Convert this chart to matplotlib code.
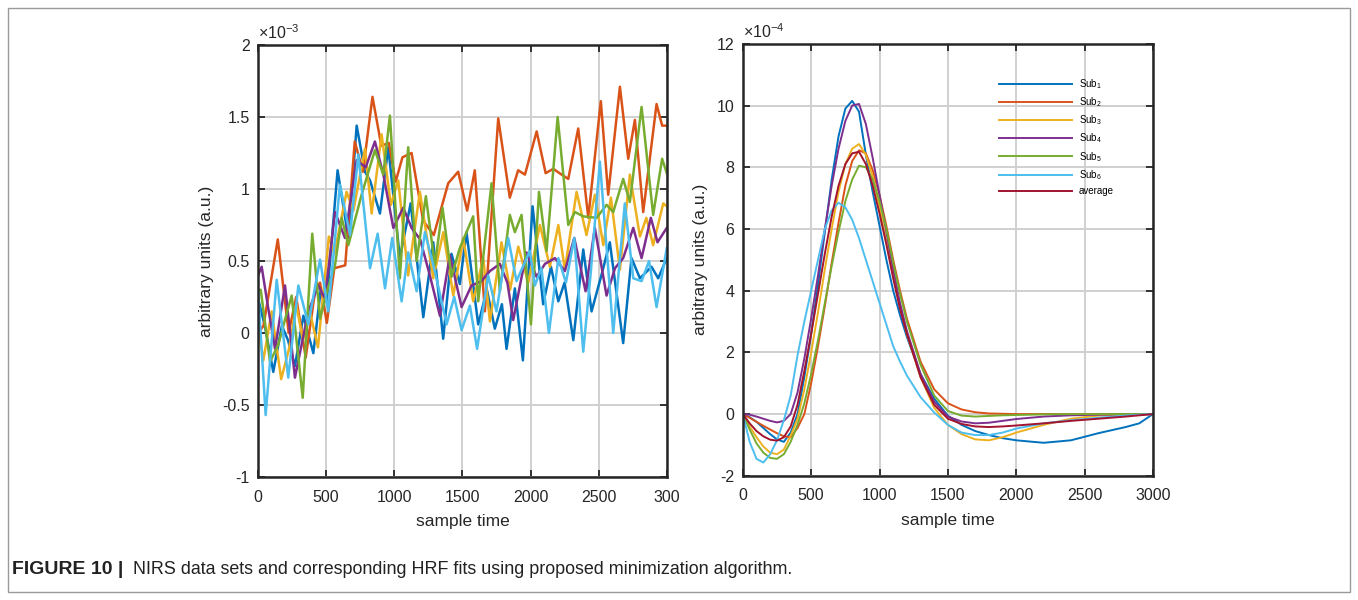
import numpy as np
import matplotlib.pyplot as plt
from matplotlib.patches import Rectangle

plt.rcParams['font.family'] = ['Liberation Sans', 'DejaVu Sans']
plt.rcParams['mathtext.default'] = 'regular'
plt.rcParams['axes.unicode_minus'] = False

colors = ['#0072BD', '#D95319', '#EDB120', '#7E2F8E', '#77AC30', '#4DBEEE', '#A2142F']
names = ['Sub$_1$', 'Sub$_2$', 'Sub$_3$', 'Sub$_4$', 'Sub$_5$', 'Sub$_6$', 'average']

# ---- left panel: NIRS data (values in 1e-3 a.u.) ----
sub1_x = [0, 50, 112, 175, 220, 271, 333, 406, 460, 504, 584, 663, 724, 785, 822, 895, 956, 1041, 1120, 1213,
          1286, 1359, 1420, 1481, 1530, 1616, 1680, 1738, 1790, 1824, 1885, 1944, 2015, 2093, 2150, 2204, 2250,
          2314, 2387, 2448, 2520, 2582, 2680, 2741, 2803, 2888, 2937, 3000]
sub1_y = [0.24, 0.05, -0.27, 0.05, -0.05, -0.23, 0.12, -0.14, 0.30, 0.22, 1.13, 0.66, 1.44, 1.12, 1.06, 0.83,
          1.29, 0.52, 0.90, 0.11, 0.63, -0.04, 0.55, 0.34, 0.70, 0.06, 0.30, 0.03, 0.20, -0.11, 0.31, -0.19,
          0.88, 0.20, 0.46, 0.22, 0.35, -0.05, 0.58, 0.15, 0.40, 0.63, -0.07, 0.52, 0.38, 0.46, 0.38, 0.52]

sub2_x = [0, 40, 145, 225, 280, 350, 420, 455, 505, 560, 640, 710, 770, 840, 905, 960, 1010, 1060, 1127, 1212,
          1290, 1396, 1469, 1535, 1591, 1665, 1763, 1848, 1909, 1959, 2045, 2111, 2167, 2228, 2277, 2350, 2424,
          2516, 2570, 2656, 2717, 2766, 2827, 2925, 2966, 3000]
sub2_y = [0.0, 0.05, 0.65, 0.0, 0.25, -0.17, 0.30, 0.35, 0.07, 0.45, 0.47, 1.33, 1.12, 1.64, 1.30, 1.32, 1.05,
          1.22, 1.25, 0.78, 0.68, 1.04, 1.12, 0.85, 1.13, 0.15, 1.49, 0.94, 1.13, 1.10, 1.40, 1.11, 1.14, 1.10,
          1.07, 1.42, 0.80, 1.61, 0.96, 1.71, 1.21, 1.48, 0.84, 1.59, 1.44, 1.44]

sub3_x = [0, 39, 100, 170, 230, 280, 330, 380, 440, 520, 560, 650, 700, 785, 834, 907, 975, 1029, 1102, 1188,
          1286, 1360, 1433, 1506, 1579, 1653, 1702, 1787, 1850, 1910, 1983, 2069, 2142, 2204, 2252, 2338, 2411,
          2472, 2534, 2590, 2656, 2729, 2803, 2850, 2900, 2974, 3000]
sub3_y = [0.05, -0.19, 0.15, -0.32, -0.10, 0.20, -0.05, 0.15, -0.10, 0.67, 0.55, 0.98, 0.85, 1.28, 0.83, 1.38,
          0.89, 1.06, 0.40, 0.98, 0.38, 0.70, 0.26, 0.66, 0.22, 0.52, 0.08, 0.63, 0.30, 0.60, 0.35, 0.75, 0.46,
          0.75, 0.44, 0.98, 0.68, 0.96, 0.61, 0.94, 0.44, 1.10, 0.67, 0.80, 0.61, 0.90, 0.88]

sub4_x = [0, 27, 70, 125, 198, 271, 369, 443, 491, 565, 638, 724, 790, 858, 920, 993, 1066, 1127, 1190, 1261,
          1335, 1408, 1494, 1567, 1640, 1702, 1775, 1830, 1873, 1970, 2045, 2106, 2179, 2252, 2321, 2404, 2472,
          2558, 2620, 2680, 2754, 2815, 2883, 2932, 3000]
sub4_y = [0.40, 0.46, 0.20, -0.11, 0.33, -0.31, 0.15, 0.33, 0.24, 0.84, 0.66, 1.20, 1.15, 1.33, 1.10, 0.73,
          0.87, 0.73, 0.65, 0.40, 0.12, 0.54, 0.18, 0.33, 0.36, 0.43, 0.48, 0.35, 0.09, 0.56, 0.39, 0.48, 0.52,
          0.43, 0.66, 0.29, 0.73, 0.26, 0.45, 0.52, 0.73, 0.52, 0.80, 0.63, 0.73]

sub5_x = [0, 20, 88, 149, 200, 247, 328, 398, 455, 510, 565, 614, 663, 760, 858, 919, 968, 1041, 1102, 1164,
          1232, 1298, 1354, 1420, 1481, 1579, 1616, 1714, 1775, 1848, 1885, 1934, 2003, 2062, 2118, 2199, 2277,
          2326, 2387, 2485, 2558, 2607, 2680, 2729, 2815, 2900, 2966, 3000]
sub5_y = [0.30, 0.30, -0.20, -0.08, 0.10, 0.26, -0.45, 0.69, 0.10, 0.30, 0.47, 0.80, 0.61, 0.96, 1.27, 1.10,
          1.51, 0.38, 1.29, 0.50, 0.95, 0.47, 0.87, 0.39, 0.59, 0.81, 0.22, 1.04, 0.29, 0.82, 0.70, 0.82, 0.06,
          0.98, 0.57, 1.50, 0.75, 0.84, 0.81, 0.80, 0.89, 0.84, 1.07, 0.91, 1.57, 0.82, 1.21, 1.11]

sub6_x = [0, 56, 137, 222, 296, 369, 455, 516, 601, 675, 736, 822, 878, 932, 985, 1054, 1102, 1164, 1225, 1300,
          1384, 1440, 1494, 1555, 1608, 1689, 1750, 1836, 1897, 1995, 2032, 2080, 2135, 2204, 2260, 2321, 2387,
          2443, 2509, 2607, 2692, 2754, 2815, 2870, 2925, 3000]
sub6_y = [0.30, -0.57, 0.37, -0.31, 0.33, 0.06, 0.51, 0.15, 1.03, 0.68, 1.24, 0.45, 0.69, 0.31, 0.66, 0.22,
          0.56, 0.29, 0.70, 0.42, 0.06, 0.25, 0.02, 0.19, -0.11, 0.40, 0.15, 0.66, 0.36, 0.57, 0.33, 0.45, 0.00,
          0.52, 0.35, 0.66, -0.13, 0.43, 1.19, 0.00, 0.90, 0.38, 0.36, 0.50, 0.18, 0.59]

# ---- right panel: HRF fits (values in 1e-4 a.u.) ----
hrf_x = [0, 50, 100, 150, 200, 250, 300, 350, 400, 450, 500, 550, 600, 650, 700, 750, 800, 850, 900, 950, 1000,
         1050, 1100, 1150, 1200, 1300, 1400, 1500, 1600, 1700, 1800, 1900, 2000, 2200, 2400, 2600, 2800, 2900, 3000]
hrf1 = [0, -0.1, -0.25, -0.45, -0.65, -0.82, -0.9, -0.6, 0.0, 1.2, 2.6, 4.2, 5.9, 7.6, 9.0, 9.9, 10.15, 9.8,
        8.4, 7.2, 6.1, 5.0, 4.0, 3.2, 2.5, 1.3, 0.5, -0.05, -0.35, -0.55, -0.68, -0.78, -0.85, -0.93, -0.85,
        -0.62, -0.42, -0.3, 0.0]
hrf2 = [0, -0.12, -0.25, -0.38, -0.5, -0.62, -0.72, -0.75, -0.45, 0.0, 1.0, 2.2, 3.5, 4.9, 6.2, 7.4, 8.2, 8.55,
        8.45, 7.9, 7.1, 6.1, 5.0, 4.0, 3.1, 1.7, 0.8, 0.35, 0.15, 0.06, 0.02, 0.01, 0.0, 0.0, 0.0, 0.0, 0.0,
        0.0, 0.0]
hrf3 = [0, -0.4, -0.75, -1.05, -1.25, -1.3, -1.15, -0.7, -0.15, 0.8, 2.0, 3.3, 4.7, 6.0, 7.2, 8.1, 8.6, 8.75,
        8.4, 7.7, 6.7, 5.6, 4.5, 3.5, 2.6, 1.2, 0.2, -0.35, -0.65, -0.82, -0.85, -0.75, -0.6, -0.35, -0.15,
        -0.05, -0.01, 0.0, 0.0]
hrf4 = [0, -0.02, -0.08, -0.15, -0.22, -0.27, -0.22, 0.0, 0.7, 1.8, 3.1, 4.5, 6.0, 7.4, 8.6, 9.5, 10.0, 10.05,
        9.4, 8.3, 7.1, 5.9, 4.7, 3.6, 2.7, 1.3, 0.4, -0.08, -0.24, -0.3, -0.28, -0.22, -0.16, -0.08, -0.04,
        -0.02, -0.01, 0.0, 0.0]
hrf5 = [0, -0.5, -0.95, -1.25, -1.42, -1.45, -1.3, -0.9, -0.35, 0.35, 1.3, 2.4, 3.6, 4.8, 5.9, 6.9, 7.6, 8.05,
        8.0, 7.6, 6.9, 6.0, 4.9, 3.9, 3.0, 1.6, 0.6, 0.1, -0.05, -0.08, -0.06, -0.04, -0.03, -0.01, 0.0, 0.0,
        0.0, 0.0, 0.0]
hrf6 = [0, -0.9, -1.45, -1.57, -1.3, -0.85, -0.2, 0.6, 1.9, 3.0, 4.0, 5.0, 6.0, 6.6, 6.85, 6.7, 6.3, 5.7, 5.0,
        4.3, 3.6, 2.9, 2.2, 1.7, 1.25, 0.55, 0.05, -0.35, -0.6, -0.68, -0.68, -0.6, -0.47, -0.3, -0.2, -0.12,
        -0.05, -0.02, 0.0]
hrf_avg = [0, -0.3, -0.55, -0.72, -0.83, -0.86, -0.75, -0.4, 0.3, 1.4, 2.6, 3.9, 5.2, 6.4, 7.4, 8.1, 8.45, 8.5,
           8.1, 7.4, 6.5, 5.5, 4.4, 3.4, 2.6, 1.2, 0.3, -0.15, -0.32, -0.4, -0.42, -0.4, -0.37, -0.3, -0.22,
           -0.15, -0.08, -0.04, 0.0]

left_x = [sub1_x, sub2_x, sub3_x, sub4_x, sub5_x, sub6_x]
left_y = [sub1_y, sub2_y, sub3_y, sub4_y, sub5_y, sub6_y]
hrf_all = [hrf1, hrf2, hrf3, hrf4, hrf5, hrf6, hrf_avg]

ink = '#262626'


def style_axes(ax, ylim, yticks, expo):
    ax.set_xlim(0, 3000)
    ax.set_ylim(*ylim)
    ax.set_xticks(np.arange(0, 3001, 500))
    ax.set_yticks(yticks)
    ax.grid(True, color='#d0d0d0', linewidth=1.4)
    ax.set_axisbelow(True)
    ax.tick_params(direction='in', top=True, right=True, length=5, width=1.3,
                   labelsize=11.5, colors=ink, pad=6)
    ax.tick_params(axis='x', pad=9)
    for s in ax.spines.values():
        s.set_linewidth(1.8)
        s.set_color(ink)
    ax.set_xlabel('sample time', fontsize=12.5, color=ink, labelpad=7)
    ax.set_ylabel('arbitrary units (a.u.)', fontsize=12.5, color=ink, labelpad=6)
    ax.text(0.0, 1.006, expo, transform=ax.transAxes, fontsize=11.5, color=ink,
            ha='left', va='bottom')


fig = plt.figure(figsize=(13.58, 6.0), dpi=100)
ax1 = fig.add_axes([0.190, 0.205, 0.301, 0.72])
ax2 = fig.add_axes([0.547, 0.207, 0.302, 0.72])

for xs, ys, c in zip(left_x, left_y, colors):
    ax1.plot(xs, ys, color=c, linewidth=1.8, solid_joinstyle='round')
style_axes(ax1, (-1, 2), [-1, -0.5, 0, 0.5, 1, 1.5, 2], r'$\times10^{-3}$')
ax1.set_xticklabels(['0', '500', '1000', '1500', '2000', '2500', '300'])
ax1.set_yticklabels(['-1', '-0.5', '0', '0.5', '1', '1.5', '2'])

for ys, c, n in zip(hrf_all, colors, names):
    ax2.plot(hrf_x, ys, color=c, linewidth=1.4, label=n, solid_joinstyle='round')
style_axes(ax2, (-2, 12), np.arange(-2, 13, 2), r'$\times10^{-4}$')

ax2.legend(loc='upper left', bbox_to_anchor=(0.625, 0.923), frameon=False, fontsize=7,
           handlelength=7.5, handletextpad=0.7, labelspacing=0.45, borderpad=0, borderaxespad=0)

# figure frame and caption
fig.patches.append(Rectangle((8 / 1358, 8 / 600), 1342 / 1358, 584 / 600, transform=fig.transFigure,
                             fill=False, edgecolor='#9a9a9a', linewidth=1.0))
cap_font = ['Liberation Sans Narrow', 'Liberation Sans', 'DejaVu Sans']
fig.text(12 / 1358, 1 - 569 / 600, 'FIGURE 10 |', fontsize=14, fontweight='bold', family=cap_font,
         color='#222222', va='center', ha='left')
fig.text(133 / 1358, 1 - 569 / 600,
         'NIRS data sets and corresponding HRF fits using proposed minimization algorithm.',
         fontsize=12.9, family=cap_font, color='#222222', va='center', ha='left')

fig.savefig('out.png', dpi=100)
